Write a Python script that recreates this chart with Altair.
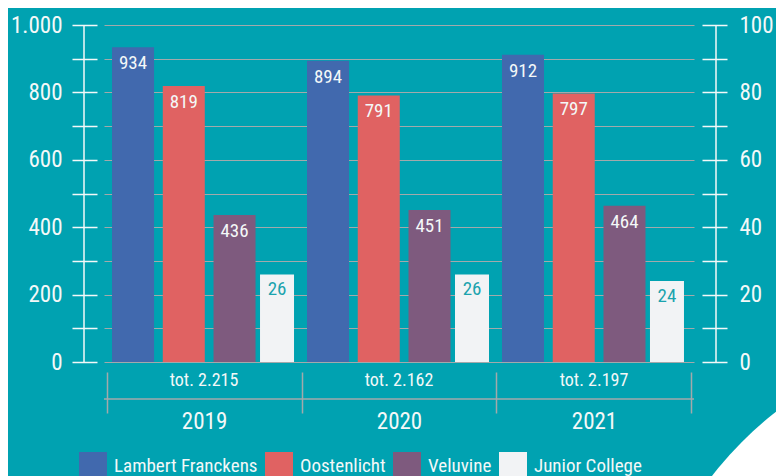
import altair as alt
import pandas as pd

years = ["2019", "2020", "2021"]
series = ["Lambert Franckens", "Oostenlicht", "Veluvine", "Junior College"]
lambert = [934, 894, 912]
oostenlicht = [819, 791, 797]
veluvine = [436, 451, 464]
junior = [26, 26, 24]
colors = ["#4169AE", "#E06262", "#7E5A7E", "#F2F3F5"]

TEAL = "#00A2B1"
GREY = "#A3A9AB"
WHITE = "#F4F8F8"
FONT = "'Roboto Condensed', 'DejaVu Sans Condensed', 'Liberation Sans Narrow', Roboto, sans-serif"

left_values = {"Lambert Franckens": lambert, "Oostenlicht": oostenlicht, "Veluvine": veluvine}
rows = [{"year": y, "series": s, "value": vals[i]}
        for s, vals in left_values.items() for i, y in enumerate(years)]
df_left = pd.DataFrame(rows)
df_j = pd.DataFrame({"year": years, "series": "Junior College", "value": junior})
totals = [a + b + c + d for a, b, c, d in zip(lambert, oostenlicht, veluvine, junior)]
df_tot = pd.DataFrame({"year": years,
                       "label": ["tot. " + f"{t:,}".replace(",", ".") for t in totals]})
df_one = pd.DataFrame({"k": [0]})

x_enc = alt.X(
    "year:N", sort=years, title=None,
    scale=alt.Scale(paddingInner=0, paddingOuter=0.013),
    axis=alt.Axis(orient="bottom", offset=10, domain=False, tickBand="extent",
                  tickSize=41, tickColor=GREY, tickWidth=1.5, labelFontSize=23,
                  labelColor=WHITE, labelPadding=-3, labelAngle=0),
)

y_left = alt.Y(
    "value:Q", title=None,
    scale=alt.Scale(domain=[0, 1000], nice=False),
    axis=alt.Axis(orient="left", values=list(range(0, 1001, 100)), offset=7,
                  tickSize=25, tickColor=WHITE, tickWidth=1.5, domain=False,
                  grid=True, gridColor=GREY, gridWidth=1,
                  labelExpr="datum.value % 200 == 0 ? replace(format(datum.value, ','), ',', '.') : ''",
                  labelFontSize=23, labelColor=WHITE, labelPadding=10),
)

y_right = alt.Y(
    "value:Q", title=None,
    scale=alt.Scale(domain=[0, 100], nice=False),
    axis=alt.Axis(orient="right", values=list(range(0, 101, 10)), offset=8,
                  tickSize=25, tickColor=WHITE, tickWidth=1.5, domain=False,
                  grid=False,
                  labelExpr="datum.value % 20 == 0 ? datum.label : ''",
                  labelFontSize=23, labelColor=WHITE, labelPadding=12),
)

color_enc = alt.Color(
    "series:N", title=None,
    scale=alt.Scale(domain=series, range=colors),
    legend=alt.Legend(orient="none", legendX=-25, legendY=427, direction="horizontal",
                      symbolType="square", symbolSize=784, symbolStrokeWidth=0,
                      symbolOpacity=1, labelFontSize=19, labelColor=WHITE,
                      labelOffset=7, columnPadding=7, padding=0),
)

xoff = alt.XOffset(
    "series:N", sort=series[:3],
    scale=alt.Scale(domain=series[:3], range=[5.5, 149], paddingInner=0.172, paddingOuter=0),
)

# decorative white corner shape (bottom right)
corner = alt.Chart(df_one).mark_arc(color="#FFFFFF", theta=0, theta2=6.2832, radius=365).encode(
    x=alt.value(896), y=alt.value(675))

base_left = alt.Chart(df_left)
bars_left = base_left.mark_bar().encode(x=x_enc, xOffset=xoff, y=y_left, color=color_enc)
text_left = base_left.mark_text(baseline="middle", dy=16, fontSize=19, color=WHITE).encode(
    x=x_enc, xOffset=xoff, y=y_left, text="value:Q")
left = alt.layer(bars_left, text_left)

base_j = alt.Chart(df_j)
bars_j = base_j.mark_bar(width=34, xOffset=73).encode(x=x_enc, y=y_right, color=color_enc)
text_j = base_j.mark_text(xOffset=73, dy=15, baseline="middle", fontSize=19, color="#1BA3AE").encode(
    x=x_enc, y=y_right, text="value:Q")
right = alt.layer(bars_j, text_j)

rule_h = alt.Chart(df_one).mark_rule(color=GREY, strokeWidth=1.5).encode(y=alt.value(374))
rule_l = alt.Chart(df_one).mark_rule(color=WHITE, strokeWidth=1.5).encode(x=alt.value(-20))
rule_r = alt.Chart(df_one).mark_rule(color=WHITE, strokeWidth=1.5).encode(x=alt.value(612))
tot_text = alt.Chart(df_tot).mark_text(fontSize=18, color=WHITE, baseline="middle").encode(
    x=x_enc, y=alt.value(356), text="label:N")

chart = (
    alt.layer(corner, left, right, rule_h, rule_l, rule_r, tot_text)
    .resolve_scale(y="independent")
    .properties(
        width=590, height=337,
        padding={"left": 96, "top": 17, "right": 82, "bottom": 130},
        autosize=alt.AutoSizeParams(type="none"),
        background=TEAL,
    )
    .configure(font=FONT)
    .configure_view(stroke=None)
)

chart.save("out.html", embed_options={"renderer": "svg", "actions": False})
